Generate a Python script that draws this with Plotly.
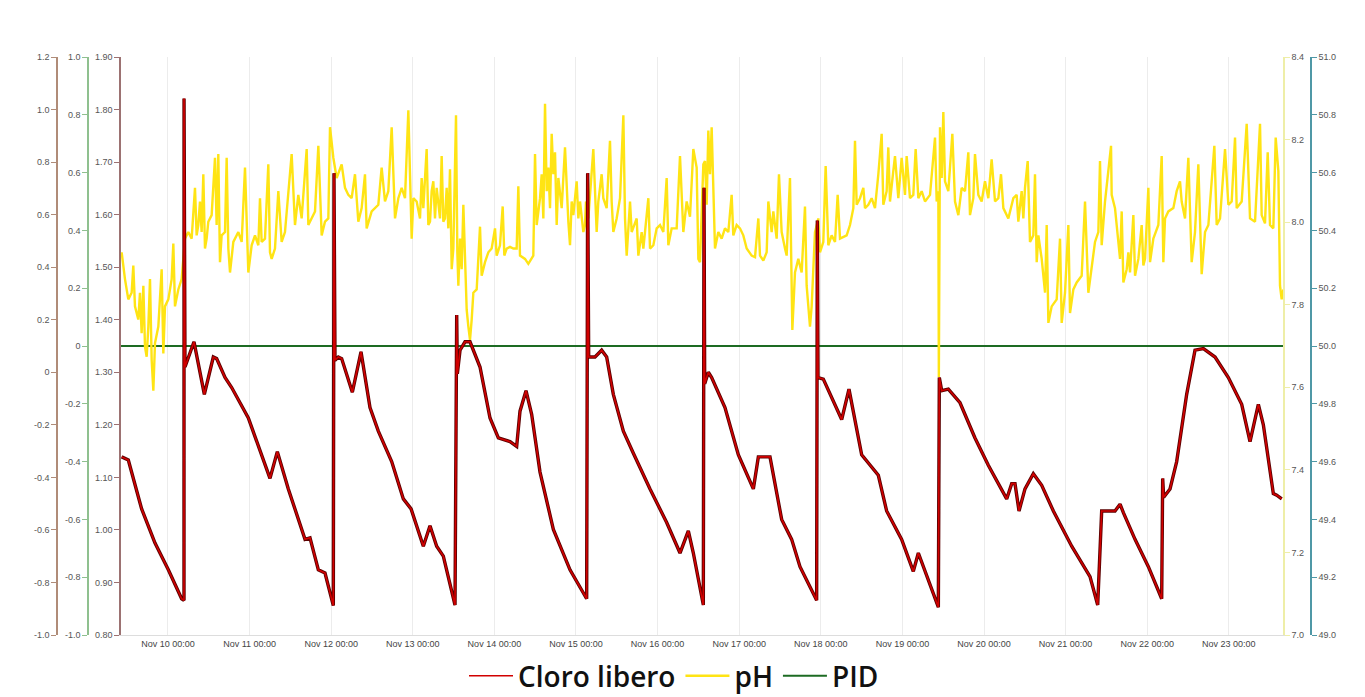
import pandas as pd
import plotly.graph_objects as go

# ---------------- data (hours since 2023-11-09 00:00, value) ----------------
base_time = "2023-11-09 00:00"

cloro_readings = [
    (10.37, 1.139), (12.33, 1.133), (16.25, 1.040), (20.18, 0.975), (24.10, 0.924),
    (28.02, 0.869), (28.71, 0.866), (28.72, 1.821), (29.00, 1.310), (29.98, 1.329),
    (31.65, 1.358), (34.69, 1.258), (37.33, 1.329), (38.31, 1.326), (40.77, 1.290),
    (42.73, 1.271), (47.63, 1.213), (54.00, 1.098), (56.16, 1.149), (59.39, 1.078),
    (64.30, 0.982), (65.77, 0.985), (68.22, 0.924), (70.18, 0.918), (72.63, 0.856),
    (72.82, 1.679), (73.12, 1.323), (74.10, 1.329), (75.08, 1.326), (78.22, 1.262),
    (80.77, 1.339), (83.41, 1.233), (85.86, 1.188), (89.79, 1.130), (93.22, 1.059),
    (95.50, 1.040), (99.10, 0.969), (101.06, 1.008), (103.02, 0.969), (104.98, 0.950),
    (108.42, 0.857), (108.91, 1.409), (109.10, 1.297), (109.89, 1.342), (111.36, 1.358),
    (112.83, 1.358), (115.77, 1.310), (118.71, 1.213), (121.16, 1.175), (124.59, 1.168),
    (126.55, 1.159), (127.53, 1.226), (129.30, 1.265), (130.96, 1.220), (133.42, 1.110),
    (137.34, 1.001), (142.24, 0.924), (147.14, 0.869), (147.43, 1.679), (147.73, 1.329),
    (149.59, 1.329), (151.55, 1.342), (153.02, 1.329), (154.98, 1.258), (157.93, 1.188),
    (160.87, 1.146), (165.77, 1.078), (170.67, 1.014), (174.59, 0.956), (177.04, 0.998),
    (178.51, 0.956), (181.45, 0.857), (181.65, 1.651), (181.85, 1.278), (182.92, 1.300),
    (183.90, 1.290), (187.82, 1.233), (191.74, 1.143), (196.16, 1.078), (197.63, 1.139),
    (201.06, 1.139), (204.49, 1.020), (207.43, 0.982), (209.88, 0.930), (214.78, 0.866),
    (214.98, 1.589), (215.18, 1.290), (216.74, 1.287), (222.14, 1.210), (224.29, 1.268),
    (228.02, 1.143), (232.92, 1.104), (235.37, 1.036), (239.78, 0.982), (243.21, 0.921),
    (244.69, 0.956), (246.65, 0.921), (250.57, 0.853), (250.86, 1.290), (251.55, 1.265),
    (253.51, 1.268), (256.94, 1.242), (261.35, 1.175), (265.27, 1.123), (270.67, 1.059),
    (272.14, 1.088), (273.12, 1.088), (274.30, 1.036), (276.06, 1.078), (278.51, 1.107),
    (280.97, 1.085), (284.40, 1.036), (289.79, 0.969), (295.18, 0.911), (297.44, 0.857),
    (298.61, 1.036), (302.53, 1.036), (304.01, 1.049), (304.99, 1.033), (308.42, 0.982),
    (312.34, 0.930), (316.26, 0.869), (316.55, 1.098), (316.85, 1.062), (318.71, 1.078),
    (320.67, 1.130), (323.61, 1.258), (326.06, 1.342), (328.52, 1.345), (331.95, 1.329),
    (335.87, 1.290), (339.79, 1.239), (342.24, 1.168), (344.69, 1.239), (346.16, 1.200),
    (349.10, 1.069), (350.10, 1.066), (351.56, 1.059),
]

ph_readings = [
    (10.37, 7.927), (11.35, 7.862), (12.33, 7.813), (13.31, 7.829), (13.80, 7.895),
    (14.29, 7.796), (15.27, 7.764), (15.76, 7.829), (16.25, 7.731), (16.75, 7.846),
    (17.24, 7.698), (17.73, 7.674), (18.22, 7.747), (18.71, 7.862), (19.20, 7.666),
    (19.69, 7.592), (20.18, 7.707), (21.16, 7.747), (22.14, 7.886), (22.63, 7.682),
    (23.12, 7.796), (24.10, 7.813), (25.08, 7.862), (25.57, 7.948), (26.06, 7.796),
    (27.04, 7.837), (28.02, 7.862), (28.51, 7.911), (29.00, 7.960), (29.98, 7.976),
    (30.96, 7.960), (31.94, 8.083), (32.43, 7.968), (32.92, 7.993), (33.41, 8.050),
    (33.90, 7.976), (34.39, 8.116), (34.88, 7.936), (35.37, 7.960), (35.86, 8.001),
    (36.84, 8.017), (37.82, 8.156), (38.31, 7.993), (38.80, 8.165), (39.29, 7.903),
    (39.78, 7.968), (40.77, 7.976), (41.26, 8.156), (41.75, 7.936), (42.24, 7.878),
    (43.22, 7.952), (44.69, 7.976), (45.67, 7.952), (46.65, 8.132), (47.63, 7.878),
    (48.61, 7.944), (49.59, 7.968), (50.57, 7.944), (51.06, 8.058), (51.55, 7.952),
    (52.53, 7.960), (53.51, 8.140), (54.00, 7.927), (54.49, 7.911), (55.47, 7.936),
    (56.45, 8.075), (57.43, 7.952), (58.41, 7.976), (60.37, 8.165), (61.35, 7.993),
    (62.33, 8.066), (63.31, 8.009), (64.79, 8.177), (65.28, 7.993), (66.26, 8.009),
    (67.24, 8.026), (68.22, 8.185), (69.20, 7.968), (70.18, 8.001), (71.16, 8.009),
    (71.65, 8.230), (72.63, 8.156), (73.61, 8.107), (75.08, 8.140), (76.06, 8.083),
    (77.04, 8.066), (78.02, 8.058), (79.00, 8.116), (79.98, 8.001), (80.96, 8.034),
    (81.94, 8.116), (82.43, 7.985), (83.90, 8.026), (85.86, 8.042), (86.84, 8.132),
    (87.82, 8.050), (88.80, 8.075), (89.79, 8.230), (90.77, 8.009), (91.75, 8.058),
    (92.73, 8.083), (93.71, 8.058), (94.69, 8.271), (95.18, 8.075), (95.67, 7.960),
    (96.16, 8.058), (97.14, 8.050), (98.12, 8.009), (98.61, 8.107), (99.10, 8.034),
    (100.08, 8.177), (100.57, 7.993), (101.06, 8.001), (101.55, 8.075), (102.04, 8.099),
    (102.53, 8.009), (103.02, 8.083), (104.00, 8.009), (104.49, 8.160), (104.98, 8.001),
    (105.47, 8.009), (105.96, 8.083), (106.45, 7.985), (106.94, 8.128), (107.44, 7.886),
    (107.93, 7.936), (108.71, 8.259), (109.10, 7.927), (109.40, 7.846), (109.89, 7.960),
    (110.38, 7.886), (110.87, 8.042), (111.36, 7.895), (111.85, 7.788), (112.34, 7.747),
    (112.83, 7.715), (113.32, 7.764), (113.81, 7.829), (114.79, 7.837), (115.77, 7.989),
    (116.26, 7.870), (117.24, 7.903), (118.22, 7.927), (119.20, 7.936), (120.18, 7.985),
    (120.67, 7.919), (121.65, 7.944), (122.44, 8.038), (122.92, 7.919), (123.61, 7.936),
    (124.59, 7.940), (125.57, 7.936), (126.55, 7.936), (127.04, 8.087), (127.53, 7.919),
    (129.00, 7.911), (129.98, 7.899), (131.45, 7.919), (131.95, 8.165), (132.44, 7.993),
    (133.42, 8.058), (133.91, 8.116), (134.40, 8.009), (134.89, 8.287), (135.38, 8.075),
    (135.87, 8.132), (136.36, 8.034), (136.85, 8.214), (137.34, 8.116), (137.83, 8.169),
    (138.32, 7.993), (138.81, 8.107), (139.79, 8.034), (140.77, 8.181), (141.75, 8.001),
    (142.24, 7.944), (142.73, 8.050), (143.22, 8.017), (144.20, 8.099), (144.69, 8.009),
    (145.18, 8.050), (146.16, 7.976), (146.65, 7.993), (146.94, 8.050), (147.63, 8.009),
    (148.61, 8.116), (149.10, 8.177), (150.08, 7.976), (150.57, 8.050), (151.55, 8.116),
    (152.04, 8.058), (153.02, 8.034), (154.00, 8.197), (154.49, 8.050), (154.98, 7.976),
    (155.96, 8.009), (156.95, 8.058), (157.93, 8.259), (158.42, 8.009), (158.91, 7.919),
    (159.89, 8.050), (160.38, 7.976), (161.85, 8.009), (162.34, 7.919), (163.32, 7.976),
    (163.81, 7.936), (165.28, 8.058), (165.77, 7.936), (166.75, 7.944), (167.73, 7.985),
    (168.71, 7.993), (169.69, 7.976), (170.67, 8.107), (171.16, 7.944), (172.14, 7.985),
    (173.61, 7.985), (174.59, 8.160), (175.57, 7.976), (176.55, 8.050), (177.53, 8.013),
    (178.51, 8.177), (179.49, 8.132), (179.98, 7.911), (180.47, 7.903), (181.45, 8.140),
    (181.94, 8.148), (182.43, 8.042), (182.92, 8.222), (183.41, 8.116), (183.90, 8.230),
    (184.39, 8.050), (184.88, 7.936), (185.86, 7.976), (186.84, 7.960), (187.82, 7.985),
    (188.80, 7.976), (189.78, 8.066), (190.27, 7.968), (191.25, 7.993), (192.23, 7.985),
    (193.21, 7.968), (194.20, 7.936), (195.67, 7.919), (196.65, 7.915), (197.63, 8.009),
    (198.12, 7.919), (199.10, 7.907), (200.08, 7.927), (200.57, 8.050), (201.55, 7.976),
    (202.04, 8.026), (203.02, 7.960), (203.70, 8.116), (204.49, 7.976), (205.47, 7.936),
    (205.96, 7.919), (206.94, 8.107), (207.63, 7.739), (208.41, 7.878), (209.39, 7.911),
    (210.37, 7.878), (211.35, 8.038), (211.84, 7.846), (212.82, 7.747), (213.31, 7.796),
    (214.29, 7.976), (215.27, 8.009), (215.76, 7.927), (216.74, 7.952), (217.43, 8.136),
    (218.21, 7.944), (219.20, 7.968), (220.18, 7.952), (220.96, 8.066), (221.65, 7.960),
    (222.63, 7.964), (223.61, 7.968), (224.59, 7.993), (225.57, 8.034), (226.06, 8.197),
    (226.55, 8.042), (227.53, 8.058), (228.51, 8.083), (229.00, 8.034), (229.98, 8.042),
    (230.96, 8.058), (231.94, 8.034), (232.92, 8.116), (233.90, 8.214), (234.39, 8.042),
    (235.37, 8.075), (235.86, 8.181), (236.35, 8.050), (237.33, 8.124), (237.82, 8.160),
    (238.80, 8.058), (239.78, 8.156), (240.76, 8.066), (241.25, 8.160), (242.23, 8.058),
    (243.21, 8.066), (243.90, 8.177), (244.69, 8.058), (245.67, 8.075), (246.65, 8.050),
    (248.12, 8.066), (249.59, 8.205), (250.08, 8.050), (250.57, 8.075), (250.72, 7.625),
    (250.86, 8.075), (251.06, 8.230), (251.55, 8.107), (252.04, 8.267), (252.53, 8.099),
    (253.51, 8.075), (254.69, 8.214), (255.47, 8.050), (256.45, 8.017), (257.43, 8.083),
    (258.41, 8.075), (259.39, 8.169), (259.88, 8.017), (260.86, 8.058), (261.35, 8.165),
    (262.33, 8.066), (263.31, 8.050), (264.29, 8.099), (265.27, 8.058), (266.25, 8.152),
    (267.24, 8.050), (268.22, 8.058), (269.00, 8.116), (269.69, 8.034), (271.16, 8.009),
    (272.63, 8.058), (273.61, 8.066), (274.10, 8.001), (275.08, 8.075), (275.57, 8.009),
    (276.06, 8.083), (276.85, 8.148), (277.53, 7.952), (278.51, 7.968), (279.00, 8.116),
    (279.50, 7.903), (279.99, 7.968), (280.97, 7.911), (281.95, 7.829), (282.44, 7.993),
    (282.93, 7.756), (283.91, 7.796), (285.38, 7.813), (286.36, 7.960), (286.85, 7.756),
    (287.83, 7.829), (288.81, 7.993), (289.30, 7.780), (290.28, 7.837), (291.26, 7.854),
    (292.73, 7.870), (293.71, 8.050), (294.69, 7.829), (295.67, 7.895), (296.65, 7.952),
    (297.63, 7.976), (298.12, 8.148), (298.61, 7.944), (299.59, 8.050), (301.36, 8.185),
    (301.55, 8.066), (302.53, 8.034), (304.01, 7.911), (304.50, 8.026), (304.99, 7.854),
    (305.97, 7.886), (306.46, 7.927), (306.95, 7.878), (307.93, 8.017), (308.42, 7.870),
    (309.40, 7.911), (310.38, 7.993), (310.87, 7.895), (311.36, 7.911), (312.34, 8.083),
    (312.83, 7.903), (313.81, 7.960), (315.28, 7.993), (316.26, 8.160), (316.75, 7.903),
    (317.24, 8.009), (318.22, 8.026), (319.69, 8.034), (320.67, 8.075), (321.65, 8.099),
    (322.14, 8.050), (323.12, 8.009), (324.10, 8.156), (325.08, 7.903), (326.06, 7.976),
    (327.04, 8.140), (328.02, 7.874), (329.01, 7.976), (329.99, 7.993), (331.75, 8.185),
    (332.44, 7.993), (333.42, 8.009), (334.89, 8.177), (335.87, 8.042), (336.85, 8.050),
    (337.83, 8.205), (338.32, 8.034), (339.79, 8.050), (341.26, 8.238), (342.24, 8.009),
    (343.71, 8.001), (345.18, 8.238), (345.67, 8.017), (346.65, 7.997), (347.44, 8.169),
    (348.12, 7.993), (349.10, 7.985), (349.79, 8.205), (350.57, 8.124), (351.06, 7.846),
    (351.55, 7.813), (352.04, 7.837),
]

pid_readings = [(10.18, 0.0), (351.94, 0.0)]
x_window_hours = [10.18, 351.94]

axis1_ticks = [1.2, 1.0, 0.8, 0.6, 0.4, 0.2, 0.0, -0.2, -0.4, -0.6, -0.8, -1.0]
axis1_labels = ["1.2", "1.0", "0.8", "0.6", "0.4", "0.2", "0", "-0.2", "-0.4", "-0.6", "-0.8", "-1.0"]
axis2_ticks = [1.0, 0.8, 0.6, 0.4, 0.2, 0.0, -0.2, -0.4, -0.6, -0.8, -1.0]
axis2_labels = ["1.0", "0.8", "0.6", "0.4", "0.2", "0", "-0.2", "-0.4", "-0.6", "-0.8", "-1.0"]

# ---------------- helpers ----------------
t0 = pd.Timestamp(base_time)


def to_time(hours):
    return [t0 + pd.Timedelta(hours=h) for h in hours]


cl_h, cl_v = zip(*cloro_readings)
ph_h, ph_v = zip(*ph_readings)
pid_h, pid_v = zip(*pid_readings)

# the page body adds an 8px margin at the top-left
OFF = 8
W, H = 1365 - 2 * OFF, 697 - OFF
px = lambda p: (p - OFF) / W
tickfont = dict(family="Liberation Sans, Arial, sans-serif", size=9, color="#555555")

fig = go.Figure()

# red (two layers: dark edge + red core)
fig.add_trace(go.Scatter(x=to_time(cl_h), y=cl_v, mode="lines", yaxis="y5",
                         line=dict(color="#5a0000", width=3.4), showlegend=False,
                         legendgroup="cl", hoverinfo="skip"))
fig.add_trace(go.Scatter(x=to_time(cl_h), y=cl_v, mode="lines", yaxis="y5",
                         name="Cloro libero", legendgroup="cl",
                         line=dict(color="#d10000", width=1.6)))
fig.add_trace(go.Scatter(x=to_time(ph_h), y=ph_v, mode="lines", yaxis="y3",
                         name="pH", line=dict(color="#ffe414", width=2.4)))
fig.add_trace(go.Scatter(x=to_time(pid_h), y=pid_v, mode="lines", yaxis="y2",
                         name="PID", line=dict(color="#1d6b23", width=2)))
# empty traces so the unused axes are drawn
fig.add_trace(go.Scatter(x=[], y=[], yaxis="y", showlegend=False, hoverinfo="skip"))
fig.add_trace(go.Scatter(x=[], y=[], yaxis="y4", showlegend=False, hoverinfo="skip"))

common_y = dict(showgrid=False, zeroline=False, showline=True, linewidth=1.5,
                ticks="outside", ticklen=5, tickwidth=1.2, tickfont=tickfont,
                fixedrange=True)

plot_top, plot_bottom = 57 - OFF, 635 - OFF
fig.update_layout(
    width=W, height=H,
    margin=dict(l=0, r=0, t=plot_top, b=H - plot_bottom, autoexpand=False),
    paper_bgcolor="white", plot_bgcolor="white",
    xaxis=dict(domain=[px(121), px(1283)], type="date",
               range=to_time(x_window_hours),
               tick0="2023-11-10", dtick=86400000, tickformat="%b %d %H:%M",
               showgrid=True, gridcolor="#ececec", gridwidth=1,
               showline=True, linecolor="#dddddd", linewidth=1,
               ticks="", tickfont=dict(family="Liberation Sans, Arial, sans-serif",
                                       size=9, color="#444444"),
               zeroline=False),
    yaxis=dict(common_y, range=[-1.0, 1.2], tickvals=axis1_ticks, ticktext=axis1_labels,
               anchor="free", position=px(57), side="left",
               linecolor="#b08c78", tickcolor="#b08c78"),
    yaxis2=dict(common_y, range=[-1.0, 1.0], tickvals=axis2_ticks, ticktext=axis2_labels,
                overlaying="y", anchor="free", position=px(88), side="left",
                linecolor="#8fc08f", tickcolor="#8fc08f"),
    yaxis3=dict(common_y, range=[7.0, 8.4], dtick=0.2, tick0=7.0, tickformat=".1f",
                overlaying="y", anchor="x", side="right",
                linecolor="#eeeea8", tickcolor="#eeeea8"),
    yaxis4=dict(common_y, range=[49.0, 51.0], dtick=0.2, tick0=49.0, tickformat=".1f",
                overlaying="y", anchor="free", position=px(1311), side="right",
                linecolor="#4f98a6", tickcolor="#4f98a6"),
    yaxis5=dict(common_y, range=[0.80, 1.90], dtick=0.1, tick0=0.8, tickformat=".2f",
                overlaying="y", anchor="x", side="left",
                linecolor="#9c7272", tickcolor="#9c7272"),
    legend=dict(orientation="h", x=px(674), xanchor="center",
                y=-(676 - 635) / (plot_bottom - plot_top), yanchor="middle",
                font=dict(family="Open Sans, sans-serif", size=28, color="#111111", weight=600),
                itemwidth=44, bgcolor="rgba(0,0,0,0)"),
    showlegend=True,
)

fig.write_html("out.html")
